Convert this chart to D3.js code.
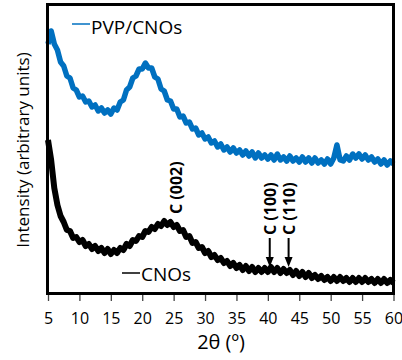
<!DOCTYPE html>
<html>
<head>
<meta charset="utf-8">
<script src="https://cdn.jsdelivr.net/npm/d3@7"></script>
<style>
  body { margin: 0; background: #fff; }
  svg text { font-family: "Open Sans", sans-serif; }
</style>
</head>
<body>
<svg id="chart" width="402" height="360"></svg>
<script>
// 2theta sampling (degrees)
const twoTheta = [
  5, 5.5, 6, 6.5, 7, 7.5, 8, 8.5, 9, 9.5,
  10, 10.5, 11, 11.5, 12, 12.5, 13, 13.5, 14, 14.5,
  15, 15.5, 16, 16.5, 17, 17.5, 18, 18.5, 19, 19.5,
  20, 20.5, 21, 21.5, 22, 22.5, 23, 23.5, 24, 24.5,
  25, 25.5, 26, 26.5, 27, 27.5, 28, 28.5, 29, 29.5,
  30, 30.5, 31, 31.5, 32, 32.5, 33, 33.5, 34, 34.5,
  35, 35.5, 36, 36.5, 37, 37.5, 38, 38.5, 39, 39.5,
  40, 40.5, 41, 41.5, 42, 42.5, 43, 43.5, 44, 44.5,
  45, 45.5, 46, 46.5, 47, 47.5, 48, 48.5, 49, 49.5,
  50, 50.5, 51, 51.5, 52, 52.5, 53, 53.5, 54, 54.5,
  55, 55.5, 56, 56.5, 57, 57.5, 58, 58.5, 59, 59.5,
  60
];

// intensities (arbitrary units)
const pvpCnos = [
  256, 269, 256, 250, 238, 234, 224, 222, 212, 210,
  203, 204, 198, 199, 193, 195, 189, 192, 187, 190,
  186, 192, 190, 198, 200, 210, 213, 222, 224, 231,
  231, 237, 232, 232, 223, 221, 211, 209, 200, 199,
  191, 191, 183, 184, 177, 178, 171, 172, 165, 167,
  161, 163, 157, 159, 153, 156, 150, 153, 148, 152,
  147, 150, 145, 149, 144, 148, 142, 147, 142, 145,
  141, 145, 140, 146, 140, 143, 139, 144, 139, 142,
  138, 143, 138, 142, 137, 142, 137, 140, 136, 141,
  136, 142, 155, 140, 139, 144, 140, 146, 142, 146,
  141, 145, 140, 143, 138, 141, 136, 140, 135, 139,
  136
];

const cnos = [
  160, 140, 112, 95, 84, 78, 70, 69, 62, 63,
  58, 60, 54, 56, 51, 54, 49, 52, 47, 51,
  46, 50, 47, 52, 50, 56, 54, 60, 59, 64,
  63, 69, 68, 73, 71, 76, 74, 79, 75, 78,
  73, 75, 69, 70, 63, 64, 57, 58, 52, 53,
  47, 49, 43, 45, 40, 42, 37, 39, 34, 37,
  32, 35, 30, 34, 29, 33, 28, 32, 28, 32,
  28, 33, 28, 32, 27, 31, 27, 30, 25, 29,
  24, 28, 23, 27, 22, 25, 21, 24, 20, 23,
  19, 23, 19, 23, 19, 22, 18, 22, 18, 22,
  18, 22, 18, 21, 17, 21, 17, 21, 17, 20,
  17
];

const xTicks = [5, 10, 15, 20, 25, 30, 35, 40, 45, 50, 55, 60];

// peak labels, their 2theta and whether an arrow points at them
const peakLabels = ["C (002)", "C (100)", "C (110)"];
const peakAngles = [25.3, 40.3, 43.3];
const peakArrows = [false, true, true];

const svg = d3.select("#chart");

const x = d3.scaleLinear().domain([5, 60]).range([48, 393.5]);
const y = d3.scaleLinear().domain([7, 296]).range([293, 4]);

const line = d3.line()
  .x((d, i) => x(twoTheta[i]))
  .y(d => y(d));

// curves
svg.append("path")
  .datum(pvpCnos)
  .attr("d", line)
  .attr("fill", "none")
  .attr("stroke", "#0070C0")
  .attr("stroke-width", 5.5)
  .attr("stroke-linejoin", "round");

svg.append("path")
  .datum(cnos)
  .attr("d", line)
  .attr("fill", "none")
  .attr("stroke", "#000")
  .attr("stroke-width", 6)
  .attr("stroke-linejoin", "round");

// bottom axis
const xAxis = svg.append("g")
  .attr("transform", "translate(0,294)")
  .call(d3.axisBottom(x).tickValues(xTicks).tickSize(7).tickSizeOuter(0));
xAxis.select(".domain").remove();
xAxis.selectAll(".tick line").attr("stroke", "#444").attr("stroke-width", 1.3);
xAxis.selectAll(".tick text")
  .attr("y", 30)
  .attr("dy", 0)
  .attr("fill", "#000")
  .style("font-size", "16px");

// frame
svg.append("rect")
  .attr("x", 47.5).attr("y", 4.5)
  .attr("width", 346).attr("height", 289)
  .attr("fill", "none")
  .attr("stroke", "#000")
  .attr("stroke-width", 3);

// peak annotations
peakLabels.forEach((lab, i) => {
  const px = x(peakAngles[i]);
  const bottom = peakArrows[i] ? 235 : 214;
  svg.append("text")
    .attr("transform", `translate(${px + 6},${bottom}) rotate(-90)`)
    .attr("font-weight", "bold")
    .style("font-size", "16px")
    .text(lab);
  if (peakArrows[i]) {
    svg.append("line")
      .attr("x1", px).attr("x2", px)
      .attr("y1", 238).attr("y2", 258)
      .attr("stroke", "#000").attr("stroke-width", 2);
    svg.append("path")
      .attr("d", `M${px - 4},257 L${px + 4},257 L${px},267 Z`)
      .attr("fill", "#000");
  }
});

// legend entries
svg.append("line")
  .attr("x1", 72).attr("x2", 90).attr("y1", 24).attr("y2", 24)
  .attr("stroke", "#0070C0").attr("stroke-width", 1.5);
svg.append("text")
  .attr("x", 91).attr("y", 34)
  .style("font-size", "19px")
  .text("PVP/CNOs");

svg.append("line")
  .attr("x1", 122).attr("x2", 140).attr("y1", 273).attr("y2", 273)
  .attr("stroke", "#000").attr("stroke-width", 1.5);
svg.append("text")
  .attr("x", 141).attr("y", 281)
  .style("font-size", "19px")
  .text("CNOs");

// axis titles
svg.append("text")
  .attr("x", 221).attr("y", 349)
  .attr("text-anchor", "middle")
  .style("font-size", "20px")
  .text("2θ (º)");

svg.append("text")
  .attr("transform", "translate(29,150) rotate(-90)")
  .attr("text-anchor", "middle")
  .style("font-size", "17px")
  .text("Intensity (arbitrary units)");
</script>
</body>
</html>
